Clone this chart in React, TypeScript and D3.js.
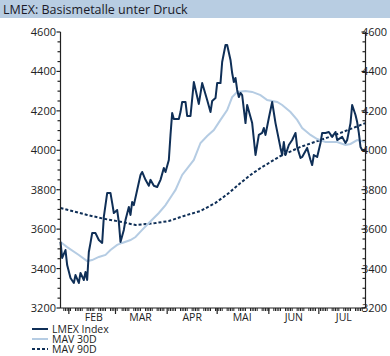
import React from "react";
import * as d3 from "d3";

const TITLE = "LMEX: Basismetalle unter Druck";
const YEAR = 2007;

const lmexDates = ["01-27","01-28","01-30","01-31","02-02","02-04","02-05","02-07","02-08","02-10","02-11","02-12","02-13","02-14","02-15","02-17","02-19","02-21","02-22","02-24","02-26","02-27","02-28","03-02","03-03","03-04","03-06","03-07","03-09","03-10","03-11","03-12","03-14","03-16","03-17","03-19","03-21","03-22","03-24","03-26","03-28","03-30","03-31","04-02","04-03","04-04","04-05","04-08","04-09","04-10","04-12","04-13","04-15","04-17","04-20","04-22","04-25","04-27","04-28","04-30","05-01","05-03","05-04","05-06","05-07","05-09","05-10","05-11","05-12","05-13","05-14","05-15","05-16","05-18","05-19","05-22","05-24","05-26","05-28","05-29","05-30","06-01","06-03","06-05","06-08","06-09","06-10","06-11","06-13","06-15","06-17","06-18","06-20","06-21","06-24","06-26","06-27","06-28","06-30","07-02","07-03","07-05","07-07","07-09","07-11","07-12","07-15","07-17","07-18","07-20","07-21","07-23","07-24","07-25","07-26","07-27","07-29"];
const lmexValues = [3535,3454,3494,3418,3352,3327,3367,3327,3378,3342,3383,3342,3484,3530,3580,3580,3545,3530,3662,3783,3783,3733,3682,3697,3636,3535,3596,3646,3712,3672,3738,3722,3799,3875,3890,3850,3820,3850,3820,3814,3850,3910,3890,3951,4078,4189,4159,4159,4194,4245,4245,4174,4174,4346,4235,4341,4255,4194,4250,4265,4341,4341,4448,4534,4534,4458,4392,4346,4367,4306,4270,4291,4280,4138,4230,4138,3976,4078,4088,4113,4078,4164,4245,4138,4012,3976,4042,3976,4027,4052,4088,4017,3961,3966,4012,3951,3925,3976,3966,4037,4088,4088,4093,4068,4093,4052,4068,4037,4052,4138,4230,4179,4143,4088,4017,4002,4002];

const mav30Dates = ["01-27","01-31","02-07","02-12","02-15","02-19","02-23","02-26","03-02","03-05","03-10","03-13","03-17","03-21","03-27","03-31","04-04","04-06","04-10","04-17","04-21","04-25","04-29","05-03","05-07","05-10","05-13","05-18","05-22","05-27","05-31","06-06","06-09","06-14","06-18","06-21","06-26","06-30","07-05","07-12","07-17","07-20","07-24","07-29"];
const mav30Values = [3535,3509,3469,3438,3443,3459,3469,3494,3520,3530,3545,3560,3596,3631,3682,3722,3773,3799,3875,3951,4037,4072,4103,4154,4204,4270,4296,4301,4296,4280,4255,4245,4230,4194,4154,4113,4078,4057,4042,4042,4027,4032,4052,4042];

const mav90Dates = ["01-27","02-12","02-23","03-05","03-13","03-19","03-25","04-02","04-11","04-21","04-30","05-08","05-15","05-21","05-27","06-08","06-20","07-02","07-14","07-29"];
const mav90Values = [3707,3672,3651,3636,3621,3626,3631,3641,3667,3692,3733,3783,3834,3875,3910,3971,4017,4052,4088,4138];

const yTicks = [3200, 3400, 3600, 3800, 4000, 4200, 4400, 4600];
const monthLabels = ["FEB", "MAR", "APR", "MAI", "JUN", "JUL"];
const legendLabels = ["LMEX Index", "MAV 30D", "MAV 90D"];

const parse = d3.timeParse("%Y-%m-%d");
const toSeries = (dates: string[], values: number[]) =>
  dates.map((d, i) => ({ date: parse(`${YEAR}-${d}`) as Date, value: values[i] }));

export default function App() {
  const W = 390, H = 356;
  const x = d3.scaleTime()
    .domain([new Date(YEAR, 0, 27), new Date(YEAR, 6, 29)])
    .range([60.5, 365.5]);
  const y = d3.scaleLinear().domain([3200, 4600]).range([308, 32]);
  const [x0, x1] = x.range();
  const yb = y(3200), yt = y(4600);

  const line = d3.line<{ date: Date; value: number }>()
    .x(d => x(d.date)).y(d => y(d.value));

  const lmex = toSeries(lmexDates, lmexValues);
  const mav30 = toSeries(mav30Dates, mav30Values);
  const mav90 = toSeries(mav90Dates, mav90Values);

  const minorY = d3.range(3200, 4601, 50);
  const days = d3.timeDay.range(x.domain()[0], x.domain()[1]).filter(d => d.getDay() > 0 && d.getDay() < 6);
  const months = d3.timeMonth.range(new Date(YEAR, 1, 1), x.domain()[1]);

  const font = "'Open Sans', 'DejaVu Sans', sans-serif";
  const axisColor = "#222";
  const navy = "#0f2f57";
  const light = "#b5cce3";

  return (
    <svg width={W} height={H} style={{ display: "block", position: "absolute", left: 0, top: 0 }} fontFamily={font}>
      <rect x={0} y={0} width={W} height={H} fill="#fff" />
      <rect x={0} y={0} width={W} height={18} fill="#b8cde2" />
      <text x={3} y={14} fontSize={12.5} fill="#1a1a28">{TITLE}</text>

      {/* lines */}
      <path d={line(mav90) || ""} fill="none" stroke={navy} strokeWidth={2} strokeDasharray="3,2" />
      <path d={line(mav30) || ""} fill="none" stroke={light} strokeWidth={2} />
      <path d={line(lmex) || ""} fill="none" stroke={navy} strokeWidth={2} strokeLinejoin="round" />

      {/* axes */}
      <g stroke={axisColor} strokeWidth={1.2} fill="none">
        <line x1={x0} x2={x0} y1={yt} y2={yb} />
        <line x1={x1} x2={x1} y1={yt} y2={yb} />
        <line x1={x0} x2={x1} y1={yb} y2={yb} />
        {minorY.map(v => {
          const major = v % 200 === 0;
          const len = major ? 4 : 3;
          return (
            <g key={v}>
              <line x1={x0 - len} x2={x0} y1={y(v)} y2={y(v)} />
              <line x1={x1 - len} x2={x1} y1={y(v)} y2={y(v)} />
            </g>
          );
        })}
        {days.map((d, i) => (
          <line key={i} x1={x(d)} x2={x(d)} y1={yb} y2={yb + 3} strokeWidth={1} />
        ))}
        {months.map((d, i) => (
          <line key={"m" + i} x1={x(d)} x2={x(d)} y1={yb} y2={yb + 6} />
        ))}
      </g>
      <g fontSize={11} fill="#222">
        {yTicks.map(v => (
          <g key={v}>
            <text x={56} y={y(v) + 4} textAnchor="end">{v}</text>
            <text x={362} y={y(v) + 4} textAnchor="start">{v}</text>
          </g>
        ))}
        {months.map((d, i) => (
          <text key={i} x={x(new Date(YEAR, d.getMonth(), 16))} y={yb + 13} textAnchor="middle" fontSize={10.5}>{monthLabels[i]}</text>
        ))}
      </g>

      {/* legend */}
      <g fontSize={10.5} fill="#222">
        {legendLabels.map((l, i) => {
          const ly = 329 + i * 10;
          return (
            <g key={l}>
              <line x1={32} x2={48} y1={ly} y2={ly}
                stroke={i === 1 ? light : navy} strokeWidth={2}
                strokeDasharray={i === 2 ? "3,2" : undefined} />
              <text x={52} y={ly + 4}>{l}</text>
            </g>
          );
        })}
      </g>
    </svg>
  );
}
